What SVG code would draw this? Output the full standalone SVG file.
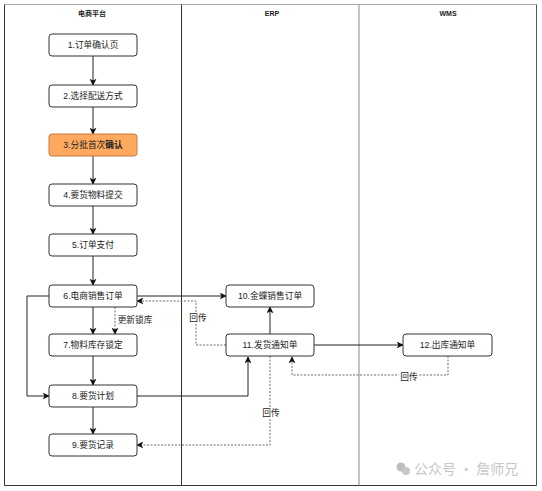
<svg xmlns="http://www.w3.org/2000/svg" width="542" height="491" viewBox="0 0 542 491">
<defs>
<marker id="arr" viewBox="0 0 10 10" refX="9" refY="5" markerWidth="7" markerHeight="7" markerUnits="userSpaceOnUse" orient="auto">
<path d="M0,0 L10,5 L0,10 L2.5,5 Z" fill="#111"/>
</marker>
<style>
.node rect{fill:#fff;stroke:#333;stroke-width:1}
.node text,.lbl{font-family:"Liberation Sans","Noto Sans CJK SC",sans-serif;font-size:8.7px;fill:#222;text-anchor:middle;dominant-baseline:central}
.hdr{font-family:"Liberation Sans","Noto Sans CJK SC",sans-serif;font-size:7px;font-weight:bold;fill:#222;text-anchor:middle}
.c{fill:none;stroke:#222;stroke-width:1}
.d{fill:none;stroke:#444;stroke-width:0.8;stroke-dasharray:2,1.5}
</style>
</defs>
<rect width="542" height="491" fill="#fff"/>
<g id="pool">
<line x1="4.5" y1="4.5" x2="536.5" y2="4.5" stroke="#aaa" stroke-width="1.2"/>
<line x1="4.5" y1="4.5" x2="4.5" y2="485.5" stroke="#333" stroke-width="1"/>
<line x1="4.5" y1="485.5" x2="536.5" y2="485.5" stroke="#333" stroke-width="1"/>
<line x1="536.5" y1="4.5" x2="536.5" y2="485.5" stroke="#555" stroke-width="1"/>
<line x1="181.5" y1="4.5" x2="181.5" y2="485.5" stroke="#333" stroke-width="1"/>
<line x1="359" y1="4.5" x2="359" y2="485.5" stroke="#999" stroke-width="1.2"/>
<text class="hdr" x="92" y="16">电商平台</text>
<text class="hdr" x="272" y="16">ERP</text>
<text class="hdr" x="448" y="16">WMS</text>
</g>
<g id="connectors">
<line class="c" x1="93" y1="56" x2="93" y2="85" marker-end="url(#arr)"/>
<line class="c" x1="93" y1="107" x2="93" y2="134" marker-end="url(#arr)"/>
<line class="c" x1="93" y1="156" x2="93" y2="184" marker-end="url(#arr)"/>
<line class="c" x1="93" y1="206" x2="93" y2="234" marker-end="url(#arr)"/>
<line class="c" x1="93" y1="256" x2="93" y2="285" marker-end="url(#arr)"/>
<line class="c" x1="93" y1="307" x2="93" y2="334" marker-end="url(#arr)"/>
<line class="c" x1="93" y1="356" x2="93" y2="385" marker-end="url(#arr)"/>
<line class="c" x1="93" y1="407" x2="93" y2="434" marker-end="url(#arr)"/>
<polyline class="c" points="49,296 27,296 27,396 49,396" marker-end="url(#arr)"/>
<line class="c" x1="137" y1="296" x2="226" y2="296" marker-end="url(#arr)"/>
<polyline class="c" points="137,396 248,396 248,357" marker-end="url(#arr)"/>
<line class="c" x1="270" y1="334" x2="270" y2="307" marker-end="url(#arr)"/>
<line class="c" x1="314" y1="345" x2="403" y2="345" marker-end="url(#arr)"/>
<line class="d" x1="115" y1="307" x2="115" y2="334" marker-end="url(#arr)"/>
<polyline class="d" points="226,345 196,345 196,301 137,301" marker-end="url(#arr)"/>
<polyline class="d" points="448,356 448,375 292,375 292,357" marker-end="url(#arr)"/>
<polyline class="d" points="270,356 270,445 137,445" marker-end="url(#arr)"/>
<text class="lbl" x="135" y="320">更新锁库</text>
<rect x="188" y="312" width="20" height="12" fill="#fff"/>
<text class="lbl" x="198" y="318">回传</text>
<rect x="399" y="371" width="20" height="12" fill="#fff"/>
<text class="lbl" x="409" y="377">回传</text>
<rect x="261" y="407" width="20" height="12" fill="#fff"/>
<text class="lbl" x="271" y="413">回传</text>
</g>
<g id="n1" class="node"><rect x="49" y="34" width="88" height="22" rx="3"/><text x="93" y="45">1.订单确认页</text></g>
<g id="n2" class="node"><rect x="49" y="85" width="88" height="22" rx="3"/><text x="93" y="96">2.选择配送方式</text></g>
<g id="n3" class="node"><rect x="49" y="134" width="88" height="22" rx="3" style="fill:#FFA95E;stroke:#C47A3A"/><text x="93" y="145">3.分批首次<tspan font-weight="bold">确认</tspan></text></g>
<g id="n4" class="node"><rect x="49" y="184" width="88" height="22" rx="3"/><text x="93" y="195">4.要货物料提交</text></g>
<g id="n5" class="node"><rect x="49" y="234" width="88" height="22" rx="3"/><text x="93" y="245">5.订单支付</text></g>
<g id="n6" class="node"><rect x="49" y="285" width="88" height="22" rx="3"/><text x="93" y="296">6.电商销售订单</text></g>
<g id="n7" class="node"><rect x="49" y="334" width="88" height="22" rx="3"/><text x="93" y="345">7.物料库存锁定</text></g>
<g id="n8" class="node"><rect x="49" y="385" width="88" height="22" rx="3"/><text x="93" y="396">8.要货计划</text></g>
<g id="n9" class="node"><rect x="49" y="434" width="88" height="22" rx="3"/><text x="93" y="445">9.要货记录</text></g>
<g id="n10" class="node"><rect x="226" y="285" width="88" height="22" rx="3"/><text x="270" y="296">10.金蝶销售订单</text></g>
<g id="n11" class="node"><rect x="226" y="334" width="88" height="22" rx="3"/><text x="270" y="345">11.发货通知单</text></g>
<g id="n12" class="node"><rect x="403" y="334" width="89" height="22" rx="3"/><text x="447.5" y="345">12.出库通知单</text></g>
<g id="watermark" opacity="0.55">
<circle cx="401" cy="467" r="4.5" fill="#888"/>
<circle cx="406" cy="471" r="4" fill="#999"/>
<text x="414" y="474" font-family="'Noto Sans CJK SC',sans-serif" font-size="14" fill="#999">公众号 · 詹师兄</text>
</g>
</svg>
